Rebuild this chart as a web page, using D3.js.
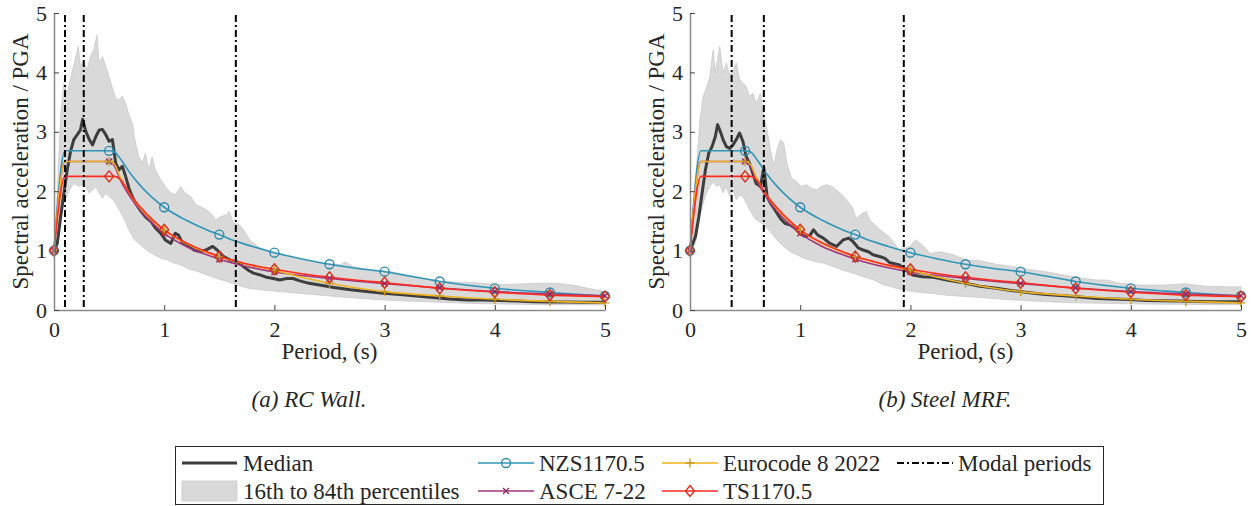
<!DOCTYPE html>
<html>
<head>
<meta charset="utf-8">
<script src="https://cdn.jsdelivr.net/npm/d3@7"></script>
</head>
<body style="margin:0">
<script>
// spectral shapes, periods in s, values = Sa / PGA

const xTicks = [0, 1, 2, 3, 4, 5];
const yTicks = [0, 1, 2, 3, 4, 5];

// design spectra (same in both panels)
const designT = [0, 0.1, 0.5, 0.55, 0.6, 0.7, 0.8, 0.9, 1, 1.2, 1.4, 1.5, 1.6, 1.8, 2, 2.25, 2.5, 2.75, 3, 3.5, 4, 4.5, 5];
const nzsSa  = [1.0, 2.68, 2.68, 2.66, 2.55, 2.28, 2.06, 1.88, 1.73, 1.51, 1.34, 1.27, 1.19, 1.07, 0.965, 0.86, 0.77, 0.70, 0.645, 0.48, 0.365, 0.295, 0.236];
const asceSa = [1.0, 2.5, 2.5, 2.42, 2.2, 1.88, 1.64, 1.45, 1.29, 1.07, 0.92, 0.855, 0.80, 0.71, 0.64, 0.58, 0.53, 0.485, 0.445, 0.37, 0.31, 0.27, 0.24];
const ec8Sa  = [1.0, 2.5, 2.5, 2.45, 2.24, 1.92, 1.68, 1.49, 1.34, 1.12, 0.96, 0.895, 0.84, 0.745, 0.67, 0.55, 0.45, 0.37, 0.31, 0.235, 0.18, 0.145, 0.12];
const tsSa   = [1.0, 2.25, 2.25, 2.25, 2.2, 1.92, 1.7, 1.51, 1.35, 1.13, 0.97, 0.90, 0.85, 0.755, 0.685, 0.61, 0.55, 0.50, 0.46, 0.365, 0.30, 0.25, 0.225];

// (a) RC wall
const wallMedian = [[0,1.0],[0.03,1.12],[0.06,1.57],[0.09,1.97],[0.12,2.36],[0.15,2.67],[0.18,2.87],[0.21,2.95],[0.24,3.03],[0.26,3.21],[0.29,3.0],[0.32,2.87],[0.35,2.78],[0.38,2.92],[0.41,3.03],[0.44,3.04],[0.47,2.95],[0.50,2.84],[0.53,2.87],[0.56,2.47],[0.59,2.36],[0.62,2.42],[0.65,2.25],[0.68,2.05],[0.71,1.91],[0.74,1.80],[0.79,1.66],[0.83,1.57],[0.88,1.49],[0.92,1.38],[0.97,1.29],[1.01,1.18],[1.06,1.12],[1.10,1.29],[1.13,1.26],[1.16,1.15],[1.21,1.10],[1.27,1.01],[1.33,0.98],[1.39,1.02],[1.44,1.07],[1.48,1.01],[1.54,0.90],[1.60,0.84],[1.66,0.81],[1.72,0.73],[1.77,0.66],[1.81,0.62],[1.87,0.59],[1.93,0.55],[1.99,0.53],[2.05,0.505],[2.11,0.53],[2.17,0.53],[2.23,0.49],[2.29,0.46],[2.41,0.42],[2.54,0.38],[2.69,0.34],[2.84,0.31],[2.99,0.28],[3.14,0.26],[3.29,0.235],[3.44,0.21],[3.59,0.185],[3.75,0.17],[3.90,0.17],[4.05,0.16],[4.20,0.15],[4.35,0.14],[4.50,0.135],[4.65,0.135],[4.80,0.13],[5.0,0.13]];
const wallP16 = [[0,1.0],[0.05,1.35],[0.09,1.80],[0.14,2.02],[0.18,2.13],[0.23,2.08],[0.27,2.13],[0.32,1.97],[0.35,2.02],[0.38,2.08],[0.41,1.97],[0.44,1.88],[0.47,1.97],[0.50,1.91],[0.54,1.85],[0.59,1.69],[0.64,1.52],[0.68,1.35],[0.73,1.18],[0.77,1.12],[0.82,1.04],[0.86,0.98],[0.91,0.93],[0.97,0.87],[1.03,0.84],[1.09,0.79],[1.15,0.76],[1.21,0.70],[1.30,0.65],[1.39,0.59],[1.48,0.53],[1.57,0.48],[1.66,0.42],[1.75,0.37],[1.87,0.34],[2.05,0.31],[2.29,0.27],[2.60,0.22],[2.90,0.18],[3.20,0.15],[3.50,0.13],[3.81,0.11],[4.11,0.10],[4.41,0.09],[4.71,0.09],[5.0,0.085]];
const wallP84 = [[0,1.0],[0.03,2.0],[0.06,3.26],[0.09,3.82],[0.12,3.65],[0.15,3.9],[0.19,4.2],[0.22,4.44],[0.24,4.1],[0.27,4.2],[0.30,4.04],[0.33,4.27],[0.36,4.38],[0.39,4.63],[0.41,4.16],[0.44,4.27],[0.47,4.10],[0.50,3.93],[0.53,3.74],[0.56,3.57],[0.59,3.54],[0.62,3.60],[0.65,3.48],[0.68,3.29],[0.71,3.15],[0.74,2.81],[0.77,2.58],[0.80,2.47],[0.83,2.64],[0.86,2.36],[0.89,2.58],[0.92,2.36],[0.97,2.19],[1.01,2.08],[1.06,1.97],[1.10,1.94],[1.15,2.08],[1.19,1.97],[1.24,1.91],[1.29,1.77],[1.33,1.74],[1.38,1.69],[1.42,1.63],[1.47,1.52],[1.51,1.57],[1.56,1.60],[1.59,1.66],[1.63,1.46],[1.68,1.44],[1.72,1.35],[1.78,1.17],[1.87,1.04],[1.96,0.98],[2.05,0.95],[2.14,0.91],[2.29,0.84],[2.44,0.79],[2.60,0.76],[2.64,0.81],[2.72,0.73],[2.90,0.67],[3.05,0.65],[3.20,0.59],[3.35,0.53],[3.50,0.49],[3.65,0.47],[3.81,0.46],[3.96,0.44],[4.11,0.43],[4.26,0.44],[4.41,0.45],[4.56,0.45],[4.71,0.42],[4.86,0.36],[5.0,0.31]];
const wallModes = [0.1, 0.27, 1.65];

// (b) steel MRF
const mrfMedian = [[0,1.0],[0.05,1.24],[0.08,1.57],[0.11,1.97],[0.14,2.36],[0.17,2.64],[0.20,2.75],[0.23,2.92],[0.25,3.12],[0.27,3.03],[0.30,2.87],[0.33,2.75],[0.36,2.72],[0.39,2.78],[0.42,2.87],[0.45,2.98],[0.48,2.84],[0.51,2.58],[0.54,2.47],[0.57,2.30],[0.60,2.13],[0.64,2.08],[0.67,2.40],[0.70,1.91],[0.73,1.80],[0.77,1.69],[0.82,1.54],[0.86,1.46],[0.91,1.43],[0.95,1.38],[1.00,1.29],[1.04,1.24],[1.09,1.26],[1.12,1.35],[1.16,1.26],[1.21,1.21],[1.27,1.12],[1.33,1.07],[1.39,1.18],[1.44,1.21],[1.48,1.15],[1.53,1.04],[1.57,1.01],[1.62,0.98],[1.66,0.93],[1.72,0.90],[1.77,0.87],[1.81,0.80],[1.90,0.76],[1.96,0.67],[2.02,0.59],[2.11,0.56],[2.21,0.55],[2.33,0.505],[2.48,0.46],[2.63,0.40],[2.78,0.365],[2.93,0.325],[3.08,0.29],[3.23,0.26],[3.39,0.24],[3.54,0.22],[3.69,0.195],[3.84,0.185],[3.99,0.175],[4.14,0.16],[4.29,0.155],[4.44,0.15],[4.60,0.145],[4.75,0.14],[5.0,0.14]];
const mrfP16 = [[0,1.0],[0.05,1.12],[0.09,1.57],[0.12,1.80],[0.15,1.97],[0.18,2.08],[0.21,2.16],[0.24,2.08],[0.27,2.11],[0.30,1.97],[0.33,2.08],[0.36,1.91],[0.39,2.02],[0.42,1.85],[0.45,1.94],[0.48,1.91],[0.51,1.80],[0.54,1.69],[0.57,1.60],[0.60,1.52],[0.65,1.46],[0.70,1.38],[0.74,1.29],[0.79,1.18],[0.85,1.07],[0.91,0.98],[0.97,0.93],[1.03,0.87],[1.09,0.84],[1.15,0.81],[1.21,0.79],[1.30,0.73],[1.39,0.67],[1.48,0.62],[1.57,0.56],[1.66,0.51],[1.75,0.43],[1.87,0.365],[2.02,0.31],[2.18,0.28],[2.33,0.25],[2.63,0.21],[2.93,0.17],[3.23,0.14],[3.54,0.12],[3.84,0.11],[4.14,0.10],[4.44,0.095],[4.75,0.09],[5.0,0.09]];
const mrfP84 = [[0,1.0],[0.05,2.19],[0.09,3.20],[0.12,3.60],[0.15,3.74],[0.18,3.93],[0.21,4.38],[0.23,3.99],[0.26,4.33],[0.27,4.44],[0.30,3.99],[0.33,4.16],[0.36,3.96],[0.39,4.04],[0.42,4.16],[0.45,3.88],[0.48,3.82],[0.51,3.76],[0.54,3.60],[0.57,3.65],[0.60,3.48],[0.64,3.65],[0.67,3.26],[0.70,3.03],[0.73,2.70],[0.76,2.42],[0.79,2.70],[0.82,2.87],[0.85,2.81],[0.88,2.47],[0.92,2.22],[0.97,2.16],[1.01,2.08],[1.06,2.11],[1.10,2.05],[1.15,2.02],[1.19,2.08],[1.24,2.11],[1.29,2.08],[1.33,2.02],[1.38,1.94],[1.42,1.85],[1.47,1.74],[1.51,1.54],[1.56,1.63],[1.60,1.66],[1.63,1.52],[1.68,1.43],[1.72,1.36],[1.81,1.23],[1.90,1.01],[1.99,1.07],[2.05,1.18],[2.11,1.09],[2.18,0.95],[2.27,0.98],[2.39,0.93],[2.51,0.84],[2.63,0.83],[2.78,0.77],[2.93,0.73],[3.08,0.68],[3.23,0.645],[3.39,0.59],[3.54,0.54],[3.69,0.505],[3.78,0.505],[3.90,0.45],[4.08,0.42],[4.29,0.42],[4.50,0.44],[4.68,0.40],[4.87,0.39],[5.0,0.39]];
const mrfModes = [0.378, 0.67, 1.94];

const codes = [
    { name: 'NZS1170.5', sa: nzsSa, line: '#2f96b8', mark: '#2a87a8', sym: 'circle' },
    { name: 'ASCE 7-22', sa: asceSa, line: '#a3337f', mark: '#8e2a6c', sym: 'x' },
    { name: 'Eurocode 8 2022', sa: ec8Sa, line: '#f2b31e', mark: '#c99a22', sym: 'plus' },
    { name: 'TS1170.5', sa: tsSa, line: '#ff2d1e', mark: '#d4301f', sym: 'diamond' }
];

const FONT = "'Liberation Serif'";
const width = 1251, height = 506;
const plotTop = 13, plotBottom = 310, plotW = 551;

const svg = d3.select('body').append('svg')
    .attr('width', width)
    .attr('height', height)
    .attr('font-family', 'Liberation Serif');

svg.append('style').text("text { font-family: 'Liberation Serif' !important; }");

function addText(parent, x, y, s, size) {
    return parent.append('text')
        .attr('x', x).attr('y', y)
        .attr('font-family', 'Liberation Serif')
        .style('font-family', FONT)
        .attr('font-size', size)
        .attr('fill', '#262626')
        .text(s);
}

function drawMarker(g, sym, x, y, color) {
    if (sym === 'circle') {
        g.append('circle').attr('cx', x).attr('cy', y).attr('r', 4.5)
            .attr('fill', 'none').attr('stroke', color).attr('stroke-width', 1.3);
    } else if (sym === 'diamond') {
        g.append('path').attr('d', `M${x},${y - 5.5}L${x + 4.5},${y}L${x},${y + 5.5}L${x - 4.5},${y}Z`)
            .attr('fill', 'none').attr('stroke', color).attr('stroke-width', 1.4);
    } else if (sym === 'x') {
        g.append('path').attr('d', `M${x - 3},${y - 3}L${x + 3},${y + 3}M${x - 3},${y + 3}L${x + 3},${y - 3}`)
            .attr('stroke', color).attr('stroke-width', 1.4);
    } else if (sym === 'plus') {
        g.append('path').attr('d', `M${x - 4.5},${y}L${x + 4.5},${y}M${x},${y - 4.5}L${x},${y + 4.5}`)
            .attr('stroke', color).attr('stroke-width', 1.4);
    }
}

function drawPanel(left, median, p16, p84, modes, caption, captionX) {
    let xScale = d3.scaleLinear().domain([0, 5]).range([left, left + plotW]);
    let yScale = d3.scaleLinear().domain([0, 5]).range([plotBottom, plotTop]);
    let g = svg.append('g');

    let line = d3.line().x(d => xScale(d[0])).y(d => yScale(d[1]));

    // percentile band
    let band = p84.concat(p16.slice().reverse());
    g.append('path')
        .attr('d', line(band) + 'Z')
        .attr('fill', '#d9d9d9')
        .attr('stroke', '#cacaca')
        .attr('stroke-width', 0.8);

    g.append('path')
        .datum(median)
        .attr('fill', 'none')
        .attr('stroke', '#3d3d3d')
        .attr('stroke-width', 3)
        .attr('stroke-linejoin', 'round')
        .attr('d', line);

    let smooth = d3.line().x(d => xScale(d[0])).y(d => yScale(d[1])).curve(d3.curveMonotoneX);
    codes.forEach(c => {
        let pts = designT.map((t, i) => [t, c.sa[i]]);
        g.append('path')
            .datum(pts)
            .attr('fill', 'none')
            .attr('stroke', c.line)
            .attr('stroke-width', 1.6)
            .attr('d', smooth);
    });
    codes.forEach(c => {
        designT.forEach((t, i) => {
            if (Math.abs(t * 2 - Math.round(t * 2)) < 1e-6) {
                drawMarker(g, c.sym, xScale(t), yScale(c.sa[i]), c.mark);
            }
        });
    });

    g.selectAll('line.mode')
        .data(modes)
        .enter()
        .append('line')
        .attr('class', 'mode')
        .attr('x1', d => xScale(d)).attr('x2', d => xScale(d))
        .attr('y1', plotTop + 2).attr('y2', plotBottom)
        .attr('stroke', '#000')
        .attr('stroke-width', 2)
        .attr('stroke-dasharray', '7,3,2,3');

    let xAxis = g.append('g')
        .attr('transform', 'translate(0,' + plotBottom + ')')
        .call(d3.axisBottom(xScale).tickValues(xTicks).tickFormat(d3.format('d'))
            .tickSizeInner(-5).tickSizeOuter(0).tickPadding(11));
    let yAxis = g.append('g')
        .attr('transform', 'translate(' + left + ',0)')
        .call(d3.axisLeft(yScale).tickValues(yTicks).tickFormat(d3.format('d'))
            .tickSizeInner(-5).tickSizeOuter(0).tickPadding(7));
    [xAxis, yAxis].forEach(a => {
        a.attr('font-family', 'Liberation Serif');
        a.select('.domain').attr('stroke', '#8a8a8a').attr('stroke-width', 1.5);
        a.selectAll('.tick line').attr('stroke', '#444').attr('stroke-width', 1);
        a.selectAll('.tick text')
            .attr('font-family', 'Liberation Serif')
            .style('font-family', FONT)
            .attr('font-size', 22)
            .attr('fill', '#262626');
    });

    addText(g, left + plotW / 2, 359, 'Period, (s)', 23)
        .attr('text-anchor', 'middle');

    addText(g, 0, 0, 'Spectral acceleration / PGA', 23)
        .attr('transform', 'translate(' + (left - 26) + ',' + ((plotTop + plotBottom) / 2) + ') rotate(-90)')
        .attr('text-anchor', 'middle');

    addText(g, captionX, 407, caption, 23)
        .attr('text-anchor', 'middle')
        .attr('font-style', 'italic');
}

drawPanel(54, wallMedian, wallP16, wallP84, wallModes, '(a) RC Wall.', 309);
drawPanel(690, mrfMedian, mrfP16, mrfP84, mrfModes, '(b) Steel MRF.', 945);

// legend
let lg = svg.append('g');
lg.append('rect')
    .attr('x', 175.5).attr('y', 446.5)
    .attr('width', 928).attr('height', 58)
    .attr('fill', '#fff')
    .attr('stroke', '#262626')
    .attr('stroke-width', 1);

let row1 = 463, row2 = 491;

lg.append('line').attr('x1', 182).attr('x2', 237).attr('y1', row1).attr('y2', row1)
    .attr('stroke', '#3d3d3d').attr('stroke-width', 3);
addText(lg, 243, row1 + 8, 'Median', 23);
lg.append('rect').attr('x', 182).attr('y', row2 - 10).attr('width', 55).attr('height', 20)
    .attr('fill', '#d9d9d9').attr('stroke', '#cacaca').attr('stroke-width', 0.8);
addText(lg, 243, row2 + 8, '16th to 84th percentiles', 23);

let legendSlots = [[478, row1], [478, row2], [662, row1], [662, row2]];
codes.forEach((c, i) => {
    let [x, y] = legendSlots[i];
    lg.append('line').attr('x1', x).attr('x2', x + 56).attr('y1', y).attr('y2', y)
        .attr('stroke', c.line).attr('stroke-width', 1.6);
    drawMarker(lg, c.sym, x + 28, y, c.mark);
    addText(lg, x + 61, y + 8, c.name, 23);
});

lg.append('line').attr('x1', 897).attr('x2', 953).attr('y1', row1).attr('y2', row1)
    .attr('stroke', '#000').attr('stroke-width', 2).attr('stroke-dasharray', '7,3,2,3');
addText(lg, 958, row1 + 8, 'Modal periods', 23);
</script>
</body>
</html>
